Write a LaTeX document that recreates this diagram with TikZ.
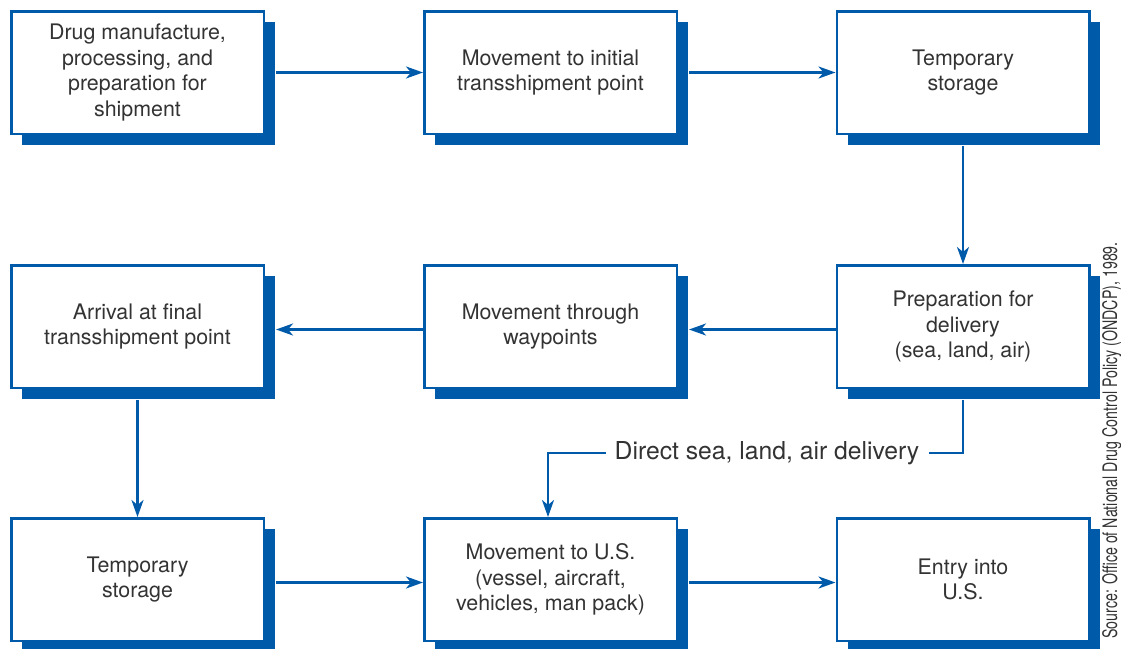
\documentclass[tikz,border=0pt]{standalone}
\usepackage{fontspec}
\setmainfont{TeX Gyre Heros}
\usetikzlibrary{arrows.meta,shadows}
\definecolor{dblue}{RGB}{0,90,170}
\definecolor{txt}{RGB}{51,51,51}
\begin{document}
\begin{tikzpicture}[x=1pt,y=-1pt,
  box/.style={draw=dblue, line width=2.5pt, fill=white, minimum width=252.5pt, minimum height=122.5pt,
    inner sep=0pt, align=center, text=txt, font=\fontsize{21.4}{25.5}\selectfont,
    general shadow={fill=dblue, shadow xshift=11pt, shadow yshift=-11pt}},
  conn/.style={draw=dblue, line width=2.5pt, -{Stealth[length=17pt,width=12pt,inset=5pt]}},
  lbl/.style={text=txt, font=\fontsize{24.7}{28}\selectfont, inner xsep=9pt, inner ysep=0pt},
  src/.style={text=txt, font=\fontsize{20}{24}\selectfont, inner sep=0pt}]
\useasboundingbox (0,0) rectangle (1121,648);
\node[box] (b1) at (137.5,72.5) {Drug manufacture,\\processing, and\\preparation for\\shipment};
\node[box] (b2) at (550.5,72.5) {Movement to initial\\transshipment point};
\node[box] (b3) at (963,72.5) {Temporary\\storage};
\node[box] (b4) at (137.5,326.5) {Arrival at final\\transshipment point};
\node[box] (b5) at (550.5,326.5) {Movement through\\waypoints};
\node[box] (b6) at (963,326.5) {Preparation for\\delivery\\(sea, land, air)};
\node[box] (b7) at (137.5,579.5) {Temporary\\storage};
\node[box] (b8) at (550.5,579.5) {Movement to U.S.\\(vessel, aircraft,\\vehicles, man pack)};
\node[box] (b9) at (963,579.5) {Entry into\\U.S.};
% row 1
\draw[conn] ([xshift=11pt]b1.east) -- (b2.west);
\draw[conn] ([xshift=11pt]b2.east) -- (b3.west);
\draw[conn] ([yshift=-11pt]b3.south) -- (b6.north);
% row 2
\draw[conn] ([yshift=-3pt]b6.west) -- ([xshift=11pt,yshift=-3pt]b5.east);
\draw[conn] ([yshift=-3pt]b5.west) -- ([xshift=11pt,yshift=-3pt]b4.east);
\draw[conn] ([yshift=-11pt]b4.south) -- (b7.north);
% row 3
\draw[conn] ([xshift=11pt,yshift=-3pt]b7.east) -- ([yshift=-3pt]b8.west);
\draw[conn] ([xshift=11pt,yshift=-3pt]b8.east) -- ([yshift=-3pt]b9.west);
% direct delivery
\node[lbl] (dl) at (767,453) {Direct sea, land, air delivery};
\draw[draw=dblue, line width=2.5pt] ([yshift=-11pt]b6.south) |- (dl.east);
\draw[conn] (dl.west) -| ([xshift=-2.5pt]b8.north);
% source
\node[src, rotate=90, anchor=base east] (source) at (1117,242)
  {\scalebox{0.71}[1]{Source: Office of National Drug Control Policy (ONDCP), 1989.}};
\end{tikzpicture}
\end{document}
